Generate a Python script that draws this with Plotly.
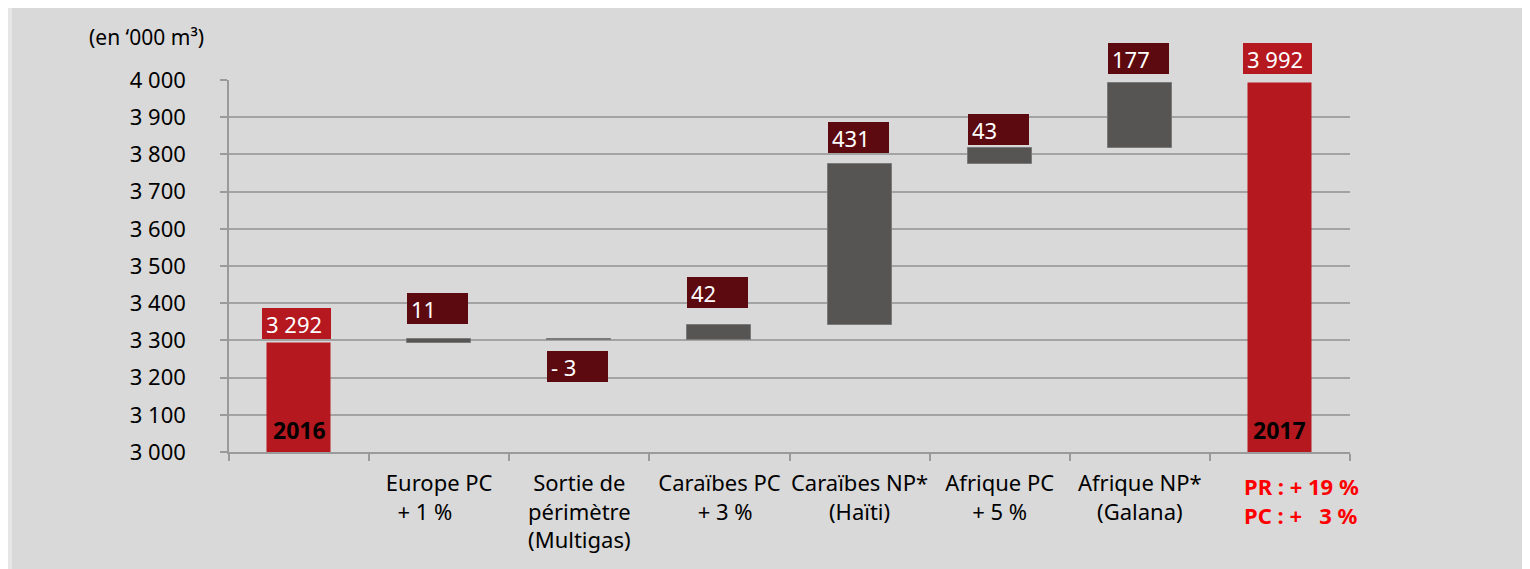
import plotly.graph_objects as go

# waterfall data, in '000 m3
categories = ["2016", "Europe PC", "Sortie de périmètre", "Caraïbes PC",
              "Caraïbes NP*", "Afrique PC", "Afrique NP*", "2017"]
measures = ["absolute", "relative", "relative", "relative",
            "relative", "relative", "relative", "absolute"]
values = [3292, 11, -3, 42, 431, 43, 177, 3992]

NB = "\u00a0"
tick_labels = ["",
               "Europe PC<br>+ 1 %" + NB * 5,
               "Sortie de<br>périmètre<br>(Multigas)",
               "Caraïbes PC<br>" + NB * 2 + "+ 3 %",
               "Caraïbes NP*<br>(Haïti)",
               "Afrique PC<br>+ 5 %",
               "Afrique NP*<br>(Galana)",
               ""]
year_labels = ["2016", "", "", "", "", "", "", "2017"]
total_note = ["PR : + 19 %", "PC : +" + NB * 3 + "3 %"]

# pixel gap between bar end and its value box (negative = below the bar)
label_gap = [4, 15, -11, 17, 11, 3, 9, 9]

y_ticks = list(range(3000, 4001, 100))

RED = "#b5191f"
GREY = "#565553"
MAROON = "#5c0a10"
FONT = "Noto Sans"

# page body keeps its default 8px margin, so the figure is offset by it
PAGE = 8
W, H = 1530 - PAGE, 569 - PAGE
L, R, T, B = 229 - PAGE, 1530 - 1350, 80 - PAGE, 569 - 452
BAR_W = 0.457

# floating bar bases
bases, heights, colors = [], [], []
running = 0
for m, v in zip(measures, values):
    if m == "absolute":
        bases.append(0)
        heights.append(v)
        colors.append(RED)
        running = v
    else:
        bases.append(running)
        heights.append(v)
        colors.append(GREY)
        running += v

fig = go.Figure()
fig.add_trace(go.Bar(
    x=categories,
    y=heights,
    base=bases,
    width=BAR_W,
    marker=dict(color=colors,
                line=dict(color=["rgba(0,0,0,0)" if c == RED else "#7a7a7a" for c in colors],
                          width=1)),
    hoverinfo="skip",
    showlegend=False,
))

annotations = []
for i, (m, v, b) in enumerate(zip(measures, values, bases)):
    top = max(b, b + v) if m == "relative" else v
    bottom = min(b, b + v) if m == "relative" else b
    if m == "absolute":
        txt = f"{v:,}".replace(",", " ")
        box, wd = RED, 61
    else:
        txt = f"- {abs(v)}" if v < 0 else str(v)
        box, wd = MAROON, 53
    below = label_gap[i] < 0
    annotations.append(dict(
        x=i - BAR_W / 2, y=bottom if below else top,
        xref="x", yref="y",
        xanchor="left", yanchor="top" if below else "bottom",
        xshift=-5 if m == "absolute" else 0,
        yshift=label_gap[i],
        text=txt, showarrow=False, align="left",
        width=wd, height=23, borderpad=4, borderwidth=0,
        bgcolor=box,
        font=dict(family=FONT, size=22, color="white"),
    ))
    if year_labels[i]:
        annotations.append(dict(
            x=i, y=3000, xref="x", yref="y",
            xanchor="center", yanchor="bottom", yshift=4,
            text=f"<b>{year_labels[i]}</b>", showarrow=False,
            font=dict(family=FONT, size=23, color="black"),
        ))

# red note under the 2017 bar
annotations.append(dict(
    x=len(categories) - 1 - BAR_W / 2, y=3000, xref="x", yref="y",
    xanchor="left", yanchor="top", xshift=-6, yshift=-17,
    text="<br>".join(f"<b>{s}</b>" for s in total_note),
    showarrow=False, align="left",
    font=dict(family=FONT, size=22, color="#ff0000"),
))

# unit label above the y axis
pw, ph = W - L - R, H - T - B
annotations.append(dict(
    x=(206 - PAGE - L) / pw, y=(H - B - (37 - PAGE)) / ph,
    xref="paper", yref="paper",
    xanchor="right", yanchor="middle",
    text="(en \u2018000 m\u00b3)", showarrow=False,
    font=dict(family=FONT, size=21, color="black"),
))

# light strip on the left of the grey panel
shapes = [dict(
    type="rect", xref="paper", yref="paper", layer="below",
    x0=-L / pw, x1=(12 - PAGE - L) / pw,
    y0=-B / ph, y1=(H - B) / ph,
    fillcolor="#e6e6e6", line=dict(width=0),
)]

fig.update_layout(
    width=W, height=H,
    margin=dict(l=L, r=R, t=T, b=B),
    paper_bgcolor="#d9d9d9",
    plot_bgcolor="rgba(0,0,0,0)",
    separators=". ",
    font=dict(family=FONT, size=22, color="black"),
    bargap=0,
    annotations=annotations,
    shapes=shapes,
    xaxis=dict(
        type="category", automargin=False, tickangle=0,
        tickmode="array", tickvals=categories, ticktext=tick_labels,
        tickson="boundaries", ticks="outside", ticklen=7,
        tickcolor="#9a9a9a", tickwidth=1.5,
        showline=True, linecolor="#9a9a9a", linewidth=1.5,
        showgrid=False, ticklabelstandoff=11,
        range=[-0.5, len(categories) - 0.5],
        tickfont=dict(family=FONT, size=22, color="black"),
    ),
    yaxis=dict(
        range=[3000, 4000], automargin=False,
        tickmode="array", tickvals=y_ticks,
        tickformat=",d",
        ticks="outside", ticklen=7, tickcolor="#9a9a9a", tickwidth=1.5,
        showline=True, linecolor="#9a9a9a", linewidth=1.5,
        showgrid=True, gridcolor="#a3a3a3", gridwidth=1.5,
        zeroline=False, ticklabelstandoff=30,
        tickfont=dict(family=FONT, size=22, color="black"),
    ),
)

fig.write_html("out.html")
